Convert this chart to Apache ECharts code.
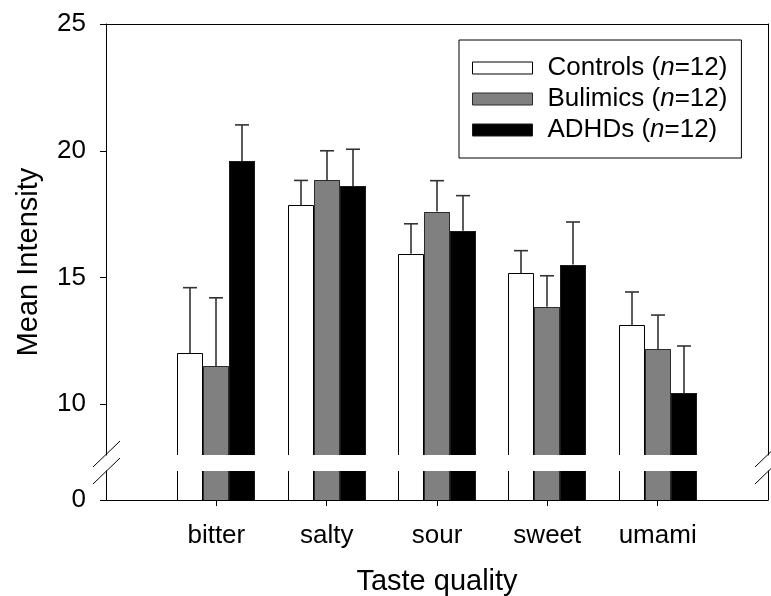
<!DOCTYPE html>
<html>
<head>
<meta charset="utf-8">
<title>Mean taste intensity by group</title>
<script src="https://cdn.jsdelivr.net/npm/echarts@6/dist/echarts.min.js"></script>
<style>
  html, body { margin: 0; padding: 0; background: #fff; }
  #chart { width: 771px; height: 596px; }
</style>
</head>
<body>
<div id="chart"></div>
<script>
// Taste qualities along the x axis
const categories = ['bitter', 'salty', 'sour', 'sweet', 'umami'];

// Group means and standard errors (upper error bar only)
const controlsMean = [12.02, 17.85, 15.94, 15.18, 13.11];
const controlsSE   = [2.58, 0.98, 1.18, 0.88, 1.32];
const bulimicsMean = [11.51, 18.85, 17.60, 13.85, 12.18];
const bulimicsSE   = [2.69, 1.15, 1.22, 1.22, 1.34];
const adhdMean     = [19.60, 18.61, 16.85, 15.51, 10.44];
const adhdSE       = [1.42, 1.45, 1.38, 1.68, 1.86];

const groupNames = ['Controls', 'Bulimics', 'ADHDs'];
const groupN = [12, 12, 12];

// Tick labels of the broken y axis
const upperTicks = [10, 15, 20, 25];
const lowerTicks = [0];

const FONT = "'Liberation Sans', Arial, Helvetica, sans-serif";
const BAR_PX = 26;
const fills = ['#ffffff', '#808080', '#000000'];
const edges = ['#000000', '#2b2b2b', '#1a1a1a'];
const means = [controlsMean, bulimicsMean, adhdMean];
const ses = [controlsSE, bulimicsSE, adhdSE];

// Bars are clipped to their grid; only the visible sides get an outline,
// so the cut at the axis break stays open.
function barRenderer(k) {
  return function (params, api) {
    const x = api.value(0), v = api.value(1);
    const cs = params.coordSys;
    const p = api.coord([x, v]);
    const base = api.coord([x, 0])[1];
    const left = Math.round(p[0] + (k - 1.5) * BAR_PX);
    const right = Math.round(p[0] + (k - 0.5) * BAR_PX);
    const topVisible = p[1] >= cs.y;
    const top = topVisible ? Math.round(p[1]) : cs.y;
    const bottom = Math.min(base, cs.y + cs.height);
    if (bottom <= top) return null;
    const lineStyle = { stroke: edges[k], lineWidth: 1, fill: null };
    const children = [{
      type: 'rect',
      shape: { x: left, y: top, width: right - left, height: bottom - top },
      style: { fill: fills[k] }
    }];
    if (topVisible) {
      children.push({
        type: 'polyline',
        shape: { points: [[left + 0.5, bottom], [left + 0.5, top + 0.5], [right - 0.5, top + 0.5], [right - 0.5, bottom]] },
        style: lineStyle
      });
    } else {
      children.push({ type: 'line', shape: { x1: left + 0.5, y1: top, x2: left + 0.5, y2: bottom }, style: lineStyle });
      children.push({ type: 'line', shape: { x1: right - 0.5, y1: top, x2: right - 0.5, y2: bottom }, style: lineStyle });
    }
    return { type: 'group', children: children };
  };
}

// Upward error bar with a short cap
function errorRenderer(k) {
  return function (params, api) {
    const x = api.value(0), m = api.value(1), se = api.value(2);
    const p0 = api.coord([x, m]);
    const p1 = api.coord([x, m + se]);
    const cx = Math.round(p0[0] + (k - 1) * BAR_PX);
    const style = { stroke: '#333333', lineWidth: 1.6 };
    return {
      type: 'group',
      children: [
        { type: 'line', shape: { x1: cx, y1: p0[1], x2: cx, y2: p1[1] }, style: style },
        { type: 'line', shape: { x1: cx - 7, y1: p1[1], x2: cx + 7, y2: p1[1] }, style: style }
      ]
    };
  };
}

const series = [];
groupNames.forEach(function (name, k) {
  const barData = categories.map(function (c, i) { return [i + 1, means[k][i]]; });
  const common = {
    type: 'custom',
    name: name,
    itemStyle: { color: fills[k], borderColor: edges[k] },
    encode: { x: 0, y: 1 },
    silent: true
  };
  series.push(Object.assign({}, common, {
    xAxisIndex: 0, yAxisIndex: 0, z: 2,
    renderItem: barRenderer(k), data: barData
  }));
  series.push(Object.assign({}, common, {
    xAxisIndex: 1, yAxisIndex: 2, z: 2,
    renderItem: barRenderer(k), data: barData
  }));
});
groupNames.forEach(function (name, k) {
  series.push({
    type: 'custom',
    name: name,
    xAxisIndex: 0, yAxisIndex: 0, z: 3,
    silent: true,
    itemStyle: { color: fills[k] },
    encode: { x: 0, y: [1, 2] },
    renderItem: errorRenderer(k),
    data: categories.map(function (c, i) { return [i + 1, means[k][i], ses[k][i]]; })
  });
});

const axisLine = { show: true, lineStyle: { color: '#000', width: 1 } };
const tickValues = categories.map(function (c, i) { return i + 1; });

const option = {
  animation: false,
  backgroundColor: '#ffffff',
  textStyle: { fontFamily: FONT },
  grid: [
    { left: 106, top: 24, width: 662, height: 431, outerBoundsMode: 'none' },
    { left: 106, top: 471, width: 662, height: 29, outerBoundsMode: 'none' }
  ],
  xAxis: [
    {
      gridIndex: 0, type: 'value', min: 0, max: 6, position: 'top',
      axisLine: axisLine, axisTick: { show: false }, axisLabel: { show: false }, splitLine: { show: false }
    },
    {
      gridIndex: 1, type: 'value', min: 0, max: 6, position: 'bottom',
      axisLine: axisLine,
      axisTick: { show: true, length: 6, inside: false, customValues: tickValues, lineStyle: { color: '#000' } },
      axisLabel: {
        show: true, customValues: tickValues, margin: 23,
        fontSize: 26, fontFamily: FONT, color: '#000',
        formatter: function (v) { return categories[Math.round(v) - 1] || ''; }
      },
      splitLine: { show: false },
      name: 'Taste quality', nameLocation: 'middle', nameGap: 67,
      nameTextStyle: { fontSize: 29, fontFamily: FONT, color: '#000' }
    }
  ],
  yAxis: [
    {
      gridIndex: 0, type: 'value', min: 8, max: 25, position: 'left',
      axisLine: axisLine,
      axisTick: { show: true, length: 6, inside: false, customValues: upperTicks, lineStyle: { color: '#000' } },
      axisLabel: { show: true, customValues: upperTicks, margin: 20, fontSize: 26, fontFamily: FONT, color: '#000' },
      splitLine: { show: false }
    },
    {
      gridIndex: 0, type: 'value', min: 8, max: 25, position: 'right',
      axisLine: axisLine, axisTick: { show: false }, axisLabel: { show: false }, splitLine: { show: false }
    },
    {
      gridIndex: 1, type: 'value', min: 0, max: 1.14, position: 'left',
      axisLine: axisLine,
      axisTick: { show: true, length: 6, inside: false, customValues: lowerTicks, lineStyle: { color: '#000' } },
      axisLabel: { show: true, customValues: lowerTicks, margin: 20, fontSize: 26, fontFamily: FONT, color: '#000' },
      splitLine: { show: false }
    },
    {
      gridIndex: 1, type: 'value', min: 0, max: 1.14, position: 'right',
      axisLine: axisLine, axisTick: { show: false }, axisLabel: { show: false }, splitLine: { show: false }
    }
  ],
  legend: {
    orient: 'vertical', left: 459, top: 40,
    padding: [15, 14, 15, 13], itemGap: 5, itemWidth: 60, itemHeight: 12,
    borderColor: '#000', borderWidth: 1, borderRadius: 0, backgroundColor: '#fff',
    selectedMode: false, icon: 'rect',
    data: groupNames.map(function (g, i) {
      return { name: g, icon: 'rect', itemStyle: { color: fills[i], borderColor: edges[i], borderWidth: 1 } };
    }),
    formatter: function (name) {
      const i = groupNames.indexOf(name);
      return '{a|' + name + ' (}{i|n}{a|=' + groupN[i] + ')}';
    },
    textStyle: {
      fontFamily: FONT, fontSize: 26, color: '#000', padding: [0, 0, 0, 10],
      rich: {
        a: { fontFamily: FONT, fontSize: 26, lineHeight: 26, color: '#000' },
        i: { fontFamily: FONT, fontSize: 26, lineHeight: 26, color: '#000', fontStyle: 'italic' }
      }
    }
  },
  graphic: [
    {
      type: 'text', x: 29, y: 262, rotation: Math.PI / 2,
      style: { text: 'Mean Intensity', font: '29px ' + FONT, fill: '#000', align: 'center', verticalAlign: 'middle' }
    },
    // axis-break marks, left and right
    { type: 'line', shape: { x1: 93, y1: 467, x2: 120, y2: 441 }, style: { stroke: '#000', lineWidth: 1 } },
    { type: 'line', shape: { x1: 93, y1: 484, x2: 120, y2: 458 }, style: { stroke: '#000', lineWidth: 1 } },
    { type: 'line', shape: { x1: 755, y1: 467, x2: 782, y2: 441 }, style: { stroke: '#000', lineWidth: 1 } },
    { type: 'line', shape: { x1: 755, y1: 484, x2: 782, y2: 458 }, style: { stroke: '#000', lineWidth: 1 } }
  ],
  series: series
};

const chart = echarts.init(document.getElementById('chart'), null, { renderer: 'canvas' });
chart.setOption(option);
</script>
</body>
</html>
